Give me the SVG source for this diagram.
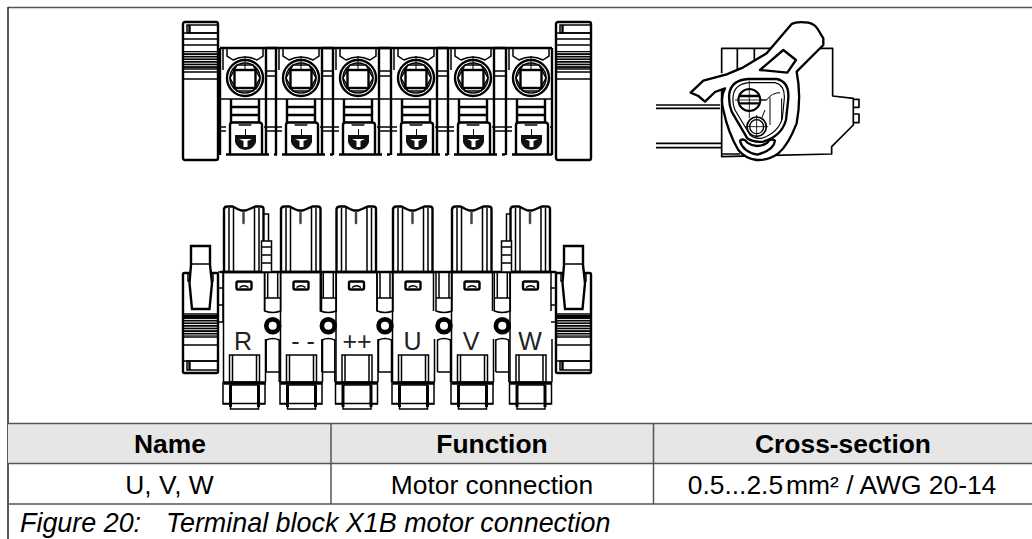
<svg xmlns="http://www.w3.org/2000/svg" xmlns:xlink="http://www.w3.org/1999/xlink" width="1032" height="539" viewBox="0 0 1032 539">
<style>
.l{fill:none;stroke:#000;stroke-width:1.5}
.t{fill:none;stroke:#000;stroke-width:1}
.b{fill:none;stroke:#000;stroke-width:2.400}
.w{fill:#fff;stroke:#000;stroke-width:1.5}
.wb{fill:#fff;stroke:#000;stroke-width:2.400}
.g{fill:none;stroke:#555;stroke-width:1.5}
text{font-family:"Liberation Sans",Arial,sans-serif;fill:#000}
.th{font-size:26.400px;font-weight:bold;text-anchor:middle}
.td{font-size:26.400px;text-anchor:middle}
.cap{font-size:26.900px;font-style:italic}
.lb{font-size:25px;text-anchor:middle;fill:#222}
</style>
<defs>
<pattern id="h" width="4" height="2.6" patternUnits="userSpaceOnUse"><rect width="4" height="1.7" fill="#000"/></pattern>
<g id="knobT">
<rect class="wb" x="0" y="0" width="35" height="138" rx="2"/>
<rect class="l" x="4" y="3" width="31" height="8"/><path class="b" d="M6.500 3V11"/>
<path class="l" d="M0 11H35M0 17H35M0 23H35"/>
<rect x="1" y="29" width="33" height="17" fill="url(#h)"/>
<path class="l" d="M0 47H35M0 50H35M0 57H35"/>
</g>
<g id="knobB">
<rect class="wb" x="0" y="0" width="35" height="100" rx="1.500"/>
<path class="l" d="M5 0V8H30V0"/>
<path class="l" d="M0 41H35"/>
<rect x="1" y="42" width="33" height="21" fill="url(#h)" stroke="none"/>
<rect fill="#000" x="1" y="42" width="33" height="3"/>
<path class="l" d="M0 64H35M0 72H35M0 88H35"/>
<rect class="l" x="4" y="88" width="31" height="9"/><path class="b" d="M6.500 88V97"/>
<path class="wb" d="M8 -27H27V-8L29 10 26.500 36H9L6.500 10 8 -8Z"/>
<path class="l" d="M8 -9H27"/>
</g>
<g id="modT">
<path class="b" d="M-25 48V155M21 48V155"/>
<path class="l" d="M-22 49V70M-25 99H21M-25 127H-19M19 127H21M-25 131H-19"/>
<path class="l" d="M-18 49V56L-12 60Q0 54 12 60L18 56V49"/>
<circle class="b" cx="0" cy="78" r="18"/>
<circle class="l" cx="0" cy="78" r="15"/>
<path class="t" d="M0 56V70"/>
<path d="M-8 65H8L15 78 8 91H-8L-15 78Z" fill="none" stroke="#000" stroke-width="1.500"/>
<rect class="wb" x="-10.500" y="70" width="21" height="18"/>
<path class="b" d="M-14 99V123H14V99M-14 107H14M-14 115H14"/>
<path class="wb" d="M-15 155V125Q-15 122.500 -12 122.500H14Q17 122.500 17 125V155"/>
<path d="M-7 123.500H7L6 126H-6Z" fill="#444"/>
<path d="M-10 135H11V142Q9 149 .5 150Q-8 149 -10 142Z" fill="#111"/>
<path d="M-6 139H7L2.500 141V147H-1.500V141Z" fill="#fff"/>
<path class="t" d="M.5 129V135"/>
<path class="b" d="M-19 154.500H21"/>
</g>
<g id="gapT">
<path class="b" d="M0 48H11"/>
<path class="l" d="M0 71H11M0 76H11M0 99H11M0 127H11M0 131H11"/>
<path class="b" d="M0 154.500H3M8 154.500H11"/>
</g>
<g id="modB">
<path class="wb" d="M-19.500 272V209Q-19 206.500 -16 206.500H-11L-6 209 -2 210.500 2 210.500 6 209 12 206.500H17Q20 206.500 20 209V272Z" />
<path class="l" d="M-14.500 208V272M-10 208V272M11 208V272M15.500 208V272"/>
<path fill="none" stroke="#444" stroke-width="2.500" stroke-linecap="round" d="M0 213V223"/>
<path class="l" d="M-20 272V382M21 272V311M22 339V382"/>
<rect class="b" x="-7" y="281.500" width="15" height="8" rx="1.500"/>
<path class="l" d="M-4 287.500Q.5 284 5 287.500"/>
<rect class="w" x="-14" y="355" width="30" height="27"/>
<path class="l" d="M-11 355V382M13 355V382"/>
<path class="l" d="M-20.500 382V404H21.500V382"/>
<path d="M-20 383H22" fill="none" stroke="#000" stroke-width="3.500"/>
<rect class="w" x="-13" y="385" width="28" height="24"/>
<path d="M-13 385V407M15 385V407" fill="none" stroke="#000" stroke-width="3"/>
<path class="l" d="M-20.500 403.500H21.500"/>
</g>
<g id="gap">
<path class="l" d="M0 272V311Q8 314 16 311V272"/>
<path class="l" d="M3 272V298M13 272V298M0 298H16"/>
<path class="l" d="M1.500 372V340Q8 337 14.500 340V382"/>
<path class="l" d="M1.500 372H14.500"/>
<circle cx="8" cy="325.700" r="6.400" fill="#fff" stroke="#000" stroke-width="4.700"/>
</g>
</defs>

<g id="frame">
<path class="g" d="M8 7.500H1032"/>
<path fill="none" stroke="#222" stroke-width="1.500" d="M8 7V539"/>
</g>

<g id="top-view">
<use xlink:href="#modT" href="#modT" x="245"/>
<use xlink:href="#gapT" href="#gapT" x="266"/>
<use xlink:href="#modT" href="#modT" x="301"/>
<use xlink:href="#gapT" href="#gapT" x="322"/>
<use xlink:href="#modT" href="#modT" x="358"/>
<use xlink:href="#gapT" href="#gapT" x="379"/>
<use xlink:href="#modT" href="#modT" x="416"/>
<use xlink:href="#gapT" href="#gapT" x="437"/>
<use xlink:href="#modT" href="#modT" x="473"/>
<use xlink:href="#gapT" href="#gapT" x="494"/>
<use xlink:href="#modT" href="#modT" x="531"/>
<path class="b" d="M220 48H552"/>
<use xlink:href="#knobT" href="#knobT" transform="translate(183,22)"/>
<use xlink:href="#knobT" href="#knobT" transform="translate(556,22)"/>
</g>

<g id="side-view" transform="translate(660,10) scale(.3333)" fill="none" stroke="#000" stroke-width="5" stroke-linejoin="round">
<path d="M185 190V115H518V258L580 265V345L515 410V432L185 440V240"/>
<path d="M232 115V180M283 115V160M185 432H240"/>
<path d="M582 268H597V292H582M582 312H597V338H582"/>
<path d="M-12 285H180M-12 295H180M-12 400H185M-12 413H185"/>
<path fill="#fff" stroke-width="7" d="M92 248L130 212 200 193 250 172 320 130 395 42Q410 33 445 38 465 42 475 60L490 85V105L410 185Q425 260 410 340 385 405 355 430 325 452 290 450 255 445 235 420 205 370 190 300 180 260 195 235 L165 246 135 275 115 258Z"/>
<path fill="#fff" stroke-width="7" d="M300 180L370 120 408 150 382 188Z"/>
<path fill="#fff" stroke-width="7" d="M208 250Q215 210 265 207H350Q388 215 385 265L378 330Q365 378 310 395 280 398 262 385L215 305Q205 280 208 250Z"/>
<path stroke-width="3.500" d="M220 255Q225 222 268 218H345Q375 225 373 265L367 325Q355 368 305 385 285 387 270 375L225 300Q216 280 220 255Z"/>
<path stroke-width="3" d="M320 270Q335 248 360 248M330 262V345M365 265V330M320 270H290M315 300 L305 325"/>
<circle cx="268" cy="270" r="33" fill="#fff" stroke-width="6"/>
<path stroke-width="7" d="M238 258H298M238 280H298"/>
<path stroke-width="2.500" d="M268 212V325M225 270H320"/>
<circle cx="290" cy="350" r="29" fill="#fff" stroke-width="5"/>
<circle cx="290" cy="350" r="21" stroke-width="4"/>
<path stroke-width="2.500" d="M290 315V385M255 350H325"/>
<path fill="#fff" stroke-width="7" d="M240 392Q252 383 262 398 290 418 322 398 332 383 345 392 342 420 292 434 248 425 240 392Z"/>
</g>

<g id="bottom-view">
<use xlink:href="#modB" href="#modB" x="243.500"/>
<use xlink:href="#modB" href="#modB" x="300.500"/>
<use xlink:href="#modB" href="#modB" x="356"/>
<use xlink:href="#modB" href="#modB" x="412.500"/>
<use xlink:href="#modB" href="#modB" x="471.500"/>
<use xlink:href="#modB" href="#modB" x="530"/>
<use xlink:href="#gap" href="#gap" x="264.700"/>
<use xlink:href="#gap" href="#gap" x="320.300"/>
<use xlink:href="#gap" href="#gap" x="377"/>
<use xlink:href="#gap" href="#gap" x="436"/>
<use xlink:href="#gap" href="#gap" x="494.300"/>
<path class="b" d="M220 272H556"/>
<g id="tab-left"><rect class="w" x="261.500" y="241" width="10" height="31"/><path class="l" d="M261.500 247H271.500M261.500 255H271.500M261.500 263H271.500M264 214H268.500V241"/></g>
<g id="tab-right"><rect class="w" x="501.500" y="241" width="10" height="31"/><path class="l" d="M501.500 247H511.500M501.500 255H511.500M501.500 263H511.500M506.500 241V214H511"/></g>
<path class="l" d="M218 272H223V322H218M218 288H223M218 305H223M551 272H556V322H551M551 288H556M551 305H556"/>
<use xlink:href="#knobB" href="#knobB" transform="translate(183,273)"/>
<use xlink:href="#knobB" href="#knobB" transform="translate(556,273)"/>
<text class="lb" x="243" y="350">R</text>
<text class="lb" x="303" y="350">- -</text>
<text class="lb" x="357" y="350">++</text>
<text class="lb" x="412.500" y="350">U</text>
<text class="lb" x="471" y="350">V</text>
<text class="lb" x="530" y="350">W</text>
</g>

<g id="table">
<rect x="8" y="424" width="1024" height="39" fill="#e6e6e6"/>
<path class="g" d="M8 423.500H1032M8 463.500H1032M8 504H1032M331 424V504M653.500 424V504"/>
<text class="th" x="170" y="453">Name</text>
<text class="th" x="492" y="453">Function</text>
<text class="th" x="843" y="453">Cross-section</text>
<text class="td" x="169.500" y="494">U, V, W</text>
<text class="td" x="492" y="494">Motor connection</text>
<text class="td" x="842" y="494">0.5...2.5<tspan dx="3">mm² / AWG 20-14</tspan></text>
<text class="cap" x="20" y="532">Figure 20:</text>
<text class="cap" x="166" y="532">Terminal block X1B motor connection</text>
</g>
</svg>
